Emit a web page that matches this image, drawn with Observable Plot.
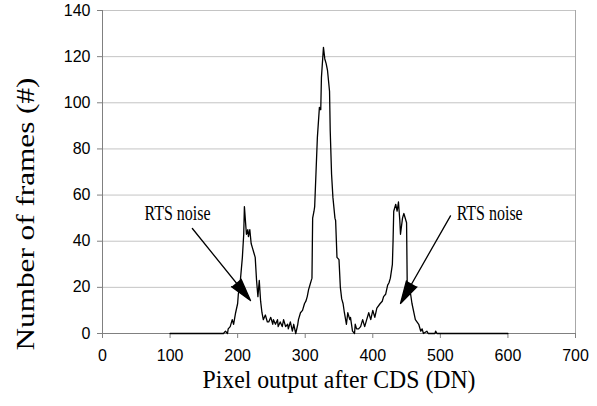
<!DOCTYPE html>
<html><head><meta charset="utf-8">
<script src="https://cdn.jsdelivr.net/npm/d3@7"></script>
<script src="https://cdn.jsdelivr.net/npm/@observablehq/plot@0.6"></script>
<style>html,body{margin:0;padding:0;background:#fff;}</style>
</head><body><div id="chart"></div>
<script>
// Histogram: pixel output (DN) vs number of frames
const dn = [100,179,182,185,186,189,192,194,197,200,201,204,207,209,210,213,215,216,218,220,222,224,226,228,230,232,234,236,238,241,244,246,249,252,253,256,259,260,263,266,268,271,274,275,278,281,283,286,289,290,293,296,299,301,303,305,307,309,310,311,313,314,316,318,321,323,324,327,329,331,333,336,337,339,341,344,345,347,350,352,354,356,358,361,363,366,367,370,373,374,376,379,382,385,388,391,394,397,400,403,406,411,414,416,419,422,424,426,429,430,431,434,436,438,440,441,444,446,449,450,451,456,458,463,468,471,473,475,480,482,492,493,495,600];
const frames = [0,0,1,0,2,3,6,4,9,13,17,23,33,43,55,43,45,42,45,39,37,35,33,23,16,23,14,9,6,8,5,5,7,4,6,4,6,3,5,3,6,3,4,2,5,1,4,0,4,6,9,10,13,14,16,19,21,23,24,50,53,55,70,85,98,97,111,124,119,117,114,105,88,69,59,50,49,33,32,20,15,13,9,4,9,6,7,1,0,4,2,2,3,6,3,6,9,6,10,7,11,13,14,16,17,21,22,24,30,40,53,56,53,57,49,43,50,52,49,48,20,17,13,6,4,1,2,0,1,0,0,1,0,0];

const xTicks = [0,100,200,300,400,500,600,700];
const yTicks = [0,20,40,60,80,100,120,140];

const noteLabels = ["RTS noise", "RTS noise"];
const noteX = [111, 573];
const noteY = [52, 52];
const arrowX1 = [133, 515];
const arrowY1 = [45.5, 51];
const arrowX2 = [219, 441];
const arrowY2 = [14.3, 13];

const xTitle = "Pixel output after CDS (DN)";
const yTitle = "Number of frames (#)";

const series = dn.map((d, i) => ({dn: d, frames: frames[i]}));
const notes = noteLabels.map((t, i) => ({text: t, x: noteX[i], y: noteY[i]}));
const arrows = arrowX1.map((x1, i) => ({x1, y1: arrowY1[i], x2: arrowX2[i], y2: arrowY2[i]}));

const serif = "'Liberation Serif', 'Times New Roman', Times, serif";

const plot = Plot.plot({
  width: 597, height: 406,
  marginLeft: 102, marginRight: 22, marginTop: 10, marginBottom: 73,
  style: {fontFamily: "Arial, 'Liberation Sans', sans-serif", fontSize: "16px", color: "black", background: "white"},
  x: {domain: [0, 700]},
  y: {domain: [0, 140]},
  marks: [
    Plot.ruleY(yTicks, {stroke: "#c4c4c4", strokeWidth: 1}),
    Plot.ruleX([700], {stroke: "#a8a8a8"}),
    Plot.ruleY([0], {stroke: "#808080"}),
    Plot.ruleX([0], {stroke: "#808080"}),
    Plot.axisX(xTicks, {tickSize: 5, tickPadding: 11, stroke: "#808080", fill: "black", label: null, fontSize: 16}),
    Plot.axisY(yTicks, {tickSize: 5, tickPadding: 7, stroke: "#808080", fill: "black", label: null, fontSize: 16}),
    Plot.line(series, {x: "dn", y: "frames", stroke: "black", strokeWidth: 1.3}),
    Plot.arrow(arrows, {x1: "x1", y1: "y1", x2: "x2", y2: "y2", stroke: "black", fill: "black", strokeWidth: 1.3, headLength: 27, headAngle: 30}),
    Plot.text(notes, {x: "x", y: "y", text: "text", fontFamily: serif, fontSize: 20}),
    Plot.text([xTitle], {frameAnchor: "bottom", textAnchor: "middle", dy: 54, text: d => d, fontFamily: serif, fontSize: 26}),
    Plot.text([yTitle], {frameAnchor: "left", textAnchor: "middle", dx: -77, dy: 42, rotate: -90, text: d => d, fontFamily: serif, fontSize: 26})
  ]
});

plot.querySelectorAll("text").forEach(t => {
  const s = t.textContent;
  let len = null;
  if (s === xTitle) len = 273;
  else if (s === yTitle) len = 273;
  else if (s === "RTS noise") len = 66;
  if (len) { t.setAttribute("textLength", len); t.setAttribute("lengthAdjust", "spacingAndGlyphs"); }
});

document.getElementById("chart").appendChild(plot);
</script>
</body></html>
